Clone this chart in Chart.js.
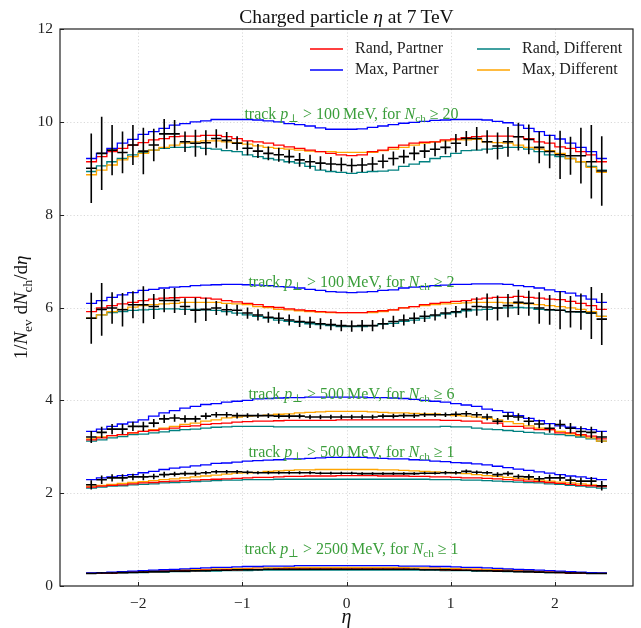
<!DOCTYPE html>
<html><head><meta charset="utf-8">
<script src="https://cdn.jsdelivr.net/npm/chart.js@4"></script>
<style>html,body{margin:0;padding:0;background:#fff}canvas{display:block}</style>
</head><body>
<canvas id="c" width="641" height="628"></canvas>
<script>
// ---------------- data ----------------
const etaLow = [-2.5,-2.4,-2.3,-2.2,-2.1,-2.0,-1.9,-1.8,-1.7,-1.6,-1.5,-1.4,-1.3,-1.2,-1.1,-1.0,-0.9,-0.8,-0.7,-0.6,-0.5,-0.4,-0.3,-0.2,-0.1,0.0,0.1,0.2,0.3,0.4,0.5,0.6,0.7,0.8,0.9,1.0,1.1,1.2,1.3,1.4,1.5,1.6,1.7,1.8,1.9,2.0,2.1,2.2,2.3,2.4];
const etaHigh = 2.5;
const xTicks = [-2,-1,0,1,2];
const yTicks = [0,2,4,6,8,10,12];
const seriesNames = ["Rand, Partner","Max, Partner","Rand, Different","Max, Different"];
const groupLabels = [
  ["100","20"],["100","2"],["500","6"],["500","1"],["2500","1"]
];

// group 1: pT > 100 MeV, Nch >= 20
const g1_randPartner = [9.14,9.25,9.36,9.43,9.50,9.55,9.61,9.64,9.68,9.69,9.69,9.71,9.71,9.68,9.64,9.59,9.57,9.54,9.50,9.46,9.43,9.39,9.36,9.32,9.29,9.27,9.29,9.36,9.39,9.45,9.50,9.54,9.56,9.57,9.61,9.63,9.66,9.68,9.69,9.69,9.69,9.68,9.64,9.57,9.54,9.46,9.43,9.36,9.29,9.14];
const g1_maxPartner = [9.21,9.32,9.43,9.54,9.62,9.73,9.79,9.86,9.93,9.96,10.00,10.02,10.05,10.05,10.05,10.05,10.04,10.02,10.00,9.96,9.94,9.91,9.87,9.84,9.84,9.84,9.85,9.88,9.91,9.94,9.97,9.99,10.01,10.03,10.04,10.05,10.05,10.05,10.04,10.01,9.98,9.93,9.86,9.79,9.71,9.63,9.54,9.45,9.36,9.21];
const g1_randDifferent = [8.93,9.05,9.14,9.21,9.29,9.34,9.39,9.43,9.45,9.45,9.46,9.43,9.41,9.38,9.36,9.29,9.25,9.21,9.18,9.14,9.11,9.04,8.96,8.93,8.91,8.89,8.91,8.93,8.94,8.96,9.04,9.09,9.14,9.21,9.25,9.32,9.38,9.39,9.41,9.43,9.45,9.45,9.41,9.36,9.29,9.25,9.21,9.14,9.04,8.96];
const g1_maxDifferent = [8.86,8.96,9.07,9.18,9.25,9.32,9.39,9.45,9.50,9.54,9.57,9.59,9.59,9.57,9.55,9.52,9.48,9.45,9.43,9.41,9.39,9.37,9.36,9.36,9.34,9.34,9.34,9.34,9.38,9.41,9.45,9.50,9.54,9.57,9.59,9.61,9.61,9.62,9.57,9.55,9.54,9.50,9.45,9.41,9.38,9.32,9.21,9.14,9.02,8.91];
const g1_data = [9.00,9.32,9.39,9.34,9.50,9.37,9.50,9.74,9.74,9.57,9.54,9.55,9.64,9.60,9.54,9.43,9.37,9.32,9.29,9.25,9.18,9.14,9.11,9.09,9.08,9.06,9.07,9.09,9.15,9.21,9.25,9.32,9.37,9.41,9.45,9.54,9.64,9.64,9.57,9.48,9.57,9.68,9.62,9.45,9.36,9.29,9.27,9.27,9.14,8.94];
const g1_err = [0.75,0.79,0.54,0.45,0.43,0.50,0.35,0.32,0.30,0.22,0.29,0.27,0.20,0.18,0.15,0.15,0.15,0.15,0.15,0.15,0.15,0.15,0.15,0.15,0.15,0.15,0.15,0.15,0.15,0.15,0.15,0.15,0.15,0.15,0.15,0.20,0.16,0.25,0.25,0.29,0.32,0.30,0.32,0.34,0.36,0.52,0.41,0.60,0.79,0.75];

// group 2: pT > 100 MeV, Nch >= 2
const g2_randPartner = [5.91,5.99,6.04,6.08,6.11,6.15,6.18,6.20,6.21,6.22,6.22,6.20,6.18,6.15,6.12,6.09,6.06,6.02,6.00,5.97,5.95,5.93,5.91,5.90,5.89,5.89,5.89,5.91,5.93,5.95,5.99,6.02,6.06,6.09,6.11,6.13,6.15,6.18,6.20,6.22,6.22,6.24,6.22,6.20,6.18,6.17,6.13,6.09,6.04,5.96];
const g2_maxPartner = [6.09,6.15,6.22,6.27,6.32,6.37,6.39,6.42,6.44,6.45,6.47,6.48,6.49,6.50,6.50,6.49,6.48,6.47,6.45,6.44,6.42,6.39,6.37,6.34,6.33,6.32,6.33,6.34,6.37,6.38,6.42,6.44,6.45,6.47,6.48,6.50,6.50,6.51,6.51,6.51,6.50,6.47,6.45,6.42,6.38,6.34,6.31,6.25,6.18,6.11];
const g2_randDifferent = [5.77,5.84,5.89,5.91,5.94,5.95,5.96,5.97,5.97,5.96,5.96,5.95,5.94,5.91,5.88,5.84,5.81,5.77,5.73,5.70,5.68,5.65,5.63,5.61,5.59,5.59,5.59,5.61,5.64,5.66,5.70,5.73,5.77,5.82,5.86,5.89,5.93,5.95,5.96,5.99,5.99,6.00,5.99,5.96,5.95,5.94,5.91,5.90,5.88,5.81];
const g2_maxDifferent = [5.77,5.84,5.91,5.96,6.01,6.04,6.06,6.08,6.09,6.11,6.11,6.11,6.11,6.09,6.08,6.06,6.02,6.00,5.96,5.95,5.93,5.91,5.90,5.89,5.89,5.89,5.89,5.89,5.91,5.95,5.99,6.02,6.04,6.06,6.08,6.09,6.10,6.11,6.11,6.11,6.10,6.09,6.08,6.06,6.04,6.02,5.99,5.96,5.91,5.81];
const g2_data = [5.77,5.96,5.99,5.95,6.06,6.06,6.02,6.15,6.15,6.02,5.94,5.96,5.99,5.95,5.94,5.88,5.84,5.79,5.77,5.73,5.70,5.68,5.65,5.63,5.61,5.60,5.61,5.61,5.65,5.70,5.73,5.77,5.81,5.84,5.88,5.91,5.96,6.02,6.01,5.99,6.04,6.11,6.09,5.99,5.95,5.94,5.91,5.91,5.88,5.75];
const g2_err = [0.55,0.57,0.34,0.36,0.29,0.40,0.27,0.25,0.27,0.18,0.27,0.25,0.15,0.12,0.12,0.12,0.12,0.12,0.12,0.12,0.12,0.12,0.12,0.12,0.12,0.12,0.12,0.12,0.12,0.12,0.12,0.12,0.12,0.12,0.12,0.12,0.18,0.20,0.29,0.27,0.25,0.27,0.27,0.34,0.32,0.41,0.34,0.39,0.56,0.56];

// group 3: pT > 500 MeV, Nch >= 6
const g3_randPartner = [3.15,3.19,3.24,3.26,3.30,3.33,3.35,3.38,3.40,3.44,3.45,3.48,3.50,3.51,3.53,3.54,3.55,3.55,3.56,3.57,3.57,3.57,3.57,3.57,3.58,3.58,3.58,3.58,3.58,3.58,3.58,3.58,3.58,3.58,3.57,3.57,3.55,3.55,3.51,3.51,3.44,3.44,3.40,3.37,3.37,3.30,3.30,3.26,3.23,3.17];
const g3_maxPartner = [3.33,3.38,3.44,3.49,3.53,3.58,3.66,3.73,3.78,3.83,3.87,3.91,3.93,3.96,3.98,4.00,4.03,4.04,4.05,4.06,4.06,4.07,4.07,4.07,4.07,4.07,4.07,4.06,4.06,4.05,4.04,4.02,4.00,3.98,3.96,3.93,3.90,3.87,3.81,3.78,3.74,3.67,3.61,3.56,3.50,3.45,3.42,3.39,3.37,3.33];
const g3_randDifferent = [3.12,3.15,3.19,3.22,3.26,3.27,3.30,3.32,3.35,3.37,3.38,3.40,3.42,3.43,3.44,3.44,3.44,3.44,3.43,3.43,3.43,3.43,3.43,3.43,3.43,3.43,3.43,3.43,3.43,3.43,3.43,3.43,3.43,3.43,3.44,3.43,3.43,3.40,3.38,3.37,3.35,3.33,3.31,3.30,3.27,3.26,3.24,3.21,3.17,3.12];
const g3_maxDifferent = [3.17,3.21,3.24,3.26,3.30,3.33,3.37,3.40,3.44,3.48,3.51,3.55,3.58,3.62,3.64,3.66,3.67,3.68,3.70,3.71,3.73,3.74,3.75,3.76,3.76,3.76,3.76,3.75,3.74,3.73,3.73,3.72,3.71,3.71,3.69,3.67,3.66,3.64,3.61,3.58,3.54,3.50,3.45,3.40,3.37,3.33,3.28,3.24,3.19,3.12];
const g3_data = [3.21,3.31,3.38,3.38,3.44,3.44,3.51,3.60,3.62,3.60,3.60,3.66,3.69,3.69,3.67,3.67,3.67,3.67,3.66,3.66,3.66,3.64,3.64,3.64,3.64,3.64,3.64,3.64,3.66,3.66,3.67,3.67,3.69,3.69,3.69,3.70,3.71,3.69,3.64,3.55,3.66,3.64,3.55,3.49,3.40,3.48,3.40,3.33,3.31,3.21];
const g3_err = [0.13,0.12,0.11,0.11,0.10,0.10,0.09,0.09,0.08,0.08,0.07,0.07,0.06,0.06,0.06,0.05,0.05,0.05,0.05,0.05,0.05,0.05,0.05,0.05,0.05,0.05,0.05,0.05,0.05,0.05,0.05,0.05,0.05,0.05,0.05,0.06,0.06,0.06,0.07,0.07,0.08,0.08,0.09,0.09,0.10,0.10,0.11,0.11,0.12,0.13];

// group 4: pT > 500 MeV, Nch >= 1
const g4_randPartner = [2.13,2.15,2.17,2.18,2.20,2.22,2.23,2.25,2.26,2.27,2.28,2.29,2.30,2.31,2.32,2.33,2.34,2.34,2.35,2.36,2.36,2.37,2.37,2.37,2.38,2.38,2.38,2.38,2.37,2.37,2.37,2.36,2.36,2.35,2.35,2.34,2.33,2.33,2.32,2.31,2.29,2.28,2.26,2.25,2.23,2.21,2.19,2.17,2.16,2.14];
const g4_maxPartner = [2.29,2.33,2.35,2.38,2.40,2.44,2.47,2.51,2.54,2.56,2.59,2.61,2.64,2.65,2.67,2.69,2.70,2.71,2.72,2.74,2.74,2.75,2.76,2.77,2.77,2.77,2.77,2.76,2.75,2.74,2.74,2.72,2.71,2.69,2.68,2.66,2.65,2.63,2.61,2.58,2.55,2.52,2.49,2.46,2.43,2.40,2.37,2.35,2.32,2.29];
const g4_randDifferent = [2.11,2.13,2.15,2.16,2.18,2.19,2.20,2.22,2.23,2.24,2.25,2.26,2.27,2.28,2.28,2.29,2.29,2.29,2.30,2.30,2.30,2.30,2.30,2.30,2.30,2.30,2.30,2.30,2.30,2.30,2.30,2.30,2.30,2.29,2.29,2.29,2.28,2.28,2.27,2.26,2.25,2.24,2.23,2.22,2.20,2.19,2.17,2.15,2.13,2.11];
const g4_maxDifferent = [2.15,2.17,2.19,2.21,2.23,2.25,2.27,2.29,2.31,2.33,2.35,2.37,2.39,2.41,2.43,2.44,2.45,2.47,2.48,2.49,2.50,2.50,2.51,2.51,2.51,2.51,2.51,2.51,2.50,2.50,2.49,2.48,2.47,2.46,2.45,2.44,2.42,2.40,2.38,2.36,2.34,2.32,2.30,2.28,2.26,2.24,2.22,2.20,2.18,2.15];
const g4_data = [2.18,2.29,2.33,2.33,2.35,2.35,2.36,2.40,2.41,2.42,2.42,2.44,2.46,2.46,2.46,2.45,2.44,2.44,2.44,2.44,2.44,2.44,2.43,2.43,2.43,2.43,2.42,2.42,2.42,2.42,2.42,2.42,2.43,2.43,2.44,2.44,2.47,2.45,2.44,2.40,2.42,2.36,2.35,2.31,2.33,2.33,2.28,2.26,2.26,2.16];
const g4_err = [0.10,0.09,0.08,0.08,0.07,0.07,0.06,0.06,0.05,0.05,0.05,0.04,0.04,0.04,0.04,0.04,0.03,0.03,0.03,0.03,0.03,0.03,0.03,0.03,0.03,0.03,0.03,0.03,0.03,0.03,0.03,0.03,0.03,0.03,0.04,0.04,0.04,0.04,0.04,0.05,0.05,0.05,0.06,0.06,0.07,0.07,0.08,0.08,0.09,0.10];

// group 5: pT > 2500 MeV, Nch >= 1
const g5_randPartner = [0.27,0.28,0.28,0.29,0.30,0.30,0.31,0.32,0.32,0.33,0.33,0.34,0.34,0.35,0.35,0.36,0.36,0.36,0.37,0.37,0.37,0.37,0.37,0.37,0.37,0.37,0.37,0.37,0.37,0.37,0.37,0.36,0.36,0.36,0.35,0.35,0.34,0.34,0.33,0.33,0.32,0.32,0.31,0.30,0.30,0.29,0.28,0.28,0.27,0.27];
const g5_maxPartner = [0.28,0.29,0.30,0.31,0.32,0.33,0.34,0.35,0.36,0.37,0.38,0.39,0.40,0.40,0.41,0.42,0.42,0.43,0.43,0.43,0.44,0.44,0.44,0.44,0.44,0.44,0.44,0.44,0.44,0.44,0.43,0.43,0.43,0.42,0.42,0.41,0.40,0.40,0.39,0.38,0.37,0.36,0.35,0.34,0.33,0.32,0.31,0.30,0.29,0.28];
const g5_randDifferent = [0.27,0.27,0.28,0.28,0.29,0.29,0.30,0.30,0.31,0.31,0.32,0.32,0.32,0.33,0.33,0.33,0.34,0.34,0.34,0.34,0.34,0.34,0.34,0.34,0.34,0.34,0.34,0.34,0.34,0.34,0.34,0.34,0.34,0.34,0.33,0.33,0.33,0.32,0.32,0.32,0.31,0.31,0.30,0.30,0.29,0.29,0.28,0.28,0.27,0.27];
const g5_maxDifferent = [0.27,0.28,0.29,0.30,0.31,0.32,0.32,0.33,0.34,0.35,0.35,0.36,0.37,0.37,0.38,0.38,0.39,0.39,0.39,0.40,0.40,0.40,0.40,0.40,0.40,0.40,0.40,0.40,0.40,0.40,0.40,0.39,0.39,0.39,0.38,0.38,0.37,0.37,0.36,0.35,0.35,0.34,0.33,0.32,0.32,0.31,0.30,0.29,0.28,0.27];
const g5_data = [0.27,0.28,0.28,0.29,0.29,0.30,0.31,0.31,0.32,0.32,0.33,0.33,0.34,0.34,0.35,0.35,0.35,0.36,0.36,0.36,0.36,0.36,0.36,0.36,0.36,0.36,0.36,0.36,0.36,0.36,0.36,0.36,0.35,0.35,0.35,0.34,0.34,0.33,0.33,0.32,0.32,0.31,0.31,0.30,0.29,0.29,0.28,0.28,0.27,0.27];
const g5_err = [0.01,0.01,0.01,0.01,0.01,0.01,0.01,0.01,0.01,0.01,0.01,0.01,0.01,0.01,0.01,0.01,0.01,0.01,0.01,0.01,0.01,0.01,0.01,0.01,0.01,0.01,0.01,0.01,0.01,0.01,0.01,0.01,0.01,0.01,0.01,0.01,0.01,0.01,0.01,0.01,0.01,0.01,0.01,0.01,0.01,0.01,0.01,0.01,0.01,0.01];

// ---------------- style / layout ----------------
const FONT = "'Liberation Serif','DejaVu Serif',serif";
const seriesColors = ["#ff0000","#0000ff","#008080","#ffa500"];
const labelColor = "#3b9e3b";
const labelPos = [10.16, 6.54, 4.12, 2.88, 0.79]; // y (data units) of group captions

const groups = [
  [g1_randPartner,g1_maxPartner,g1_randDifferent,g1_maxDifferent,g1_data,g1_err],
  [g2_randPartner,g2_maxPartner,g2_randDifferent,g2_maxDifferent,g2_data,g2_err],
  [g3_randPartner,g3_maxPartner,g3_randDifferent,g3_maxDifferent,g3_data,g3_err],
  [g4_randPartner,g4_maxPartner,g4_randDifferent,g4_maxDifferent,g4_data,g4_err],
  [g5_randPartner,g5_maxPartner,g5_randDifferent,g5_maxDifferent,g5_data,g5_err]
];

const upEdge = i => (i + 1 < etaLow.length ? etaLow[i+1] : etaHigh);
function stepPoints(vals){
  const pts = etaLow.map((x,i)=>({x, y: vals[i]}));
  pts.push({x: etaHigh, y: vals[vals.length-1]});
  return pts;
}
function errPoints(vals, errs){
  const pts = [];
  vals.forEach((v,i)=>{ const c=(etaLow[i]+upEdge(i))/2;
    pts.push({x:c,y:v-errs[i]},{x:c,y:v+errs[i]},{x:c,y:null}); });
  return pts;
}
function barPoints(vals){
  const pts = [];
  vals.forEach((v,i)=>{ pts.push({x:etaLow[i],y:v},{x:upEdge(i),y:v},{x:upEdge(i),y:null}); });
  return pts;
}

const datasets = [];
groups.forEach(g=>{
  datasets.push({data: errPoints(g[4], g[5]), borderColor:'#000', borderWidth:1.6, pointRadius:0, spanGaps:false, order:0});
  datasets.push({data: barPoints(g[4]), borderColor:'#000', borderWidth:1.6, pointRadius:0, spanGaps:false, order:0});
});
const drawOrder = [1,0,3,2];
groups.forEach(g=>{
  drawOrder.forEach((s,k)=>{
    datasets.push({label: seriesNames[s], data: stepPoints(g[s]), borderColor: seriesColors[s],
      borderWidth:1.3, pointRadius:0, stepped:'before', order: 1+k, borderJoinStyle:'miter'});
  });
});

// ---------------- rich text helper ----------------
function drawRich(ctx, segs, x, y, size, align){
  const fontFor = s => (s.i ? 'italic ' : '') + (s.sub ? size*0.7 : size) + 'px ' + FONT;
  let w = 0;
  segs.forEach(s=>{ ctx.font = fontFor(s); s.w = ctx.measureText(s.t).width; w += s.w; });
  let cx = align === 'center' ? x - w/2 : (align === 'right' ? x - w : x);
  ctx.textAlign = 'left';
  segs.forEach(s=>{ ctx.font = fontFor(s); ctx.fillText(s.t, cx, y + (s.sub ? size*0.28 : 0)); cx += s.w; });
}

const deco = {
  id: 'deco',
  beforeDatasetsDraw(chart){
    const {ctx, chartArea:a, scales:{x, y}} = chart;
    ctx.save();
    ctx.strokeStyle = '#cfcfcf'; ctx.lineWidth = 0.8; ctx.setLineDash([1.2,2.2]);
    xTicks.forEach(v=>{ const px = Math.round(x.getPixelForValue(v))+0.5;
      ctx.beginPath(); ctx.moveTo(px,a.top); ctx.lineTo(px,a.bottom); ctx.stroke(); });
    yTicks.forEach(v=>{ if(v<=0||v>=12) return; const py = Math.round(y.getPixelForValue(v))+0.5;
      ctx.beginPath(); ctx.moveTo(a.left,py); ctx.lineTo(a.right,py); ctx.stroke(); });
    ctx.restore();
  },
  afterDatasetsDraw(chart){
    const {ctx, chartArea:a, scales:{x, y}} = chart;
    ctx.save();
    // frame
    ctx.strokeStyle = '#222'; ctx.lineWidth = 1.2; ctx.setLineDash([]);
    ctx.strokeRect(a.left, a.top, a.right-a.left, a.bottom-a.top);
    // inward ticks
    ctx.lineWidth = 1;
    xTicks.forEach(v=>{ const px = Math.round(x.getPixelForValue(v))+0.5;
      ctx.beginPath(); ctx.moveTo(px,a.bottom); ctx.lineTo(px,a.bottom-4); ctx.stroke(); });
    yTicks.forEach(v=>{ const py = Math.round(y.getPixelForValue(v))+0.5;
      ctx.beginPath(); ctx.moveTo(a.left,py); ctx.lineTo(a.left+4,py); ctx.stroke(); });
    // group captions
    ctx.fillStyle = labelColor; ctx.textBaseline = 'middle';
    groupLabels.forEach((gl,i)=>{
      drawRich(ctx, [
        {t:'track '},{t:'p',i:1},{t:'\u22A5',sub:1},{t:' > '+gl[0]+'\u2009MeV, for '},
        {t:'N',i:1},{t:'ch',sub:1},{t:' \u2265 '+gl[1]}
      ], x.getPixelForValue(0)+5, y.getPixelForValue(labelPos[i]), 16, 'center');
    });
    // legend
    ctx.textBaseline = 'middle'; ctx.fillStyle = '#222'; ctx.lineWidth = 1.4;
    const lg = [[0,310,49],[1,310,70],[2,477,49],[3,477,70]];
    lg.forEach(([s,lx,ly])=>{
      ctx.strokeStyle = seriesColors[s];
      ctx.beginPath(); ctx.moveTo(lx,ly); ctx.lineTo(lx+33,ly); ctx.stroke();
      ctx.font = '16px '+FONT; ctx.textAlign='left'; ctx.fillText(seriesNames[s], lx+45, ly);
    });
    // title
    ctx.fillStyle = '#111'; ctx.textBaseline = 'alphabetic';
    drawRich(ctx, [{t:'Charged particle '},{t:'\u03B7',i:1},{t:' at 7\u2009TeV'}], x.getPixelForValue(0), 23, 19.5, 'center');
    // x label
    drawRich(ctx, [{t:'\u03B7',i:1}], x.getPixelForValue(0), 623, 20, 'center');
    // y label
    ctx.translate(27, (a.top+a.bottom)/2);
    ctx.rotate(-Math.PI/2);
    drawRich(ctx, [{t:'1/'},{t:'N',i:1},{t:'ev',sub:1},{t:' d'},{t:'N',i:1},{t:'ch',sub:1},{t:'/d'},{t:'\u03B7',i:1}], 0, 0, 19, 'center');
    ctx.restore();
  }
};

const fmt = v => (v < 0 ? '\u2212' + Math.abs(v) : String(v));

new Chart(document.getElementById('c'), {
  type: 'line',
  data: { datasets },
  options: {
    responsive: false, animation: false, devicePixelRatio: 1, events: [],
    layout: { padding: { left: 0, right: 8, top: 29, bottom: 0 } },
    plugins: { legend: {display:false}, tooltip: {enabled:false}, title:{display:false} },
    scales: {
      x: { type:'linear', min:-2.75, max:2.75,
        grid:{display:false, drawTicks:false}, border:{display:false},
        afterBuildTicks: s => { s.ticks = xTicks.map(v=>({value:v})); },
        afterFit: s => { s.height = 42; },
        ticks:{ font:{family:FONT, size:15.5}, color:'#222', padding:9, maxRotation:0, autoSkip:false, callback: v => fmt(v) } },
      y: { type:'linear', min:0, max:12,
        grid:{display:false, drawTicks:false}, border:{display:false},
        afterBuildTicks: s => { s.ticks = yTicks.map(v=>({value:v})); },
        afterFit: s => { s.width = 60; },
        ticks:{ font:{family:FONT, size:15.5}, color:'#222', padding:7, callback: v => fmt(v) } }
    }
  },
  plugins: [deco]
});
</script>
</body></html>
